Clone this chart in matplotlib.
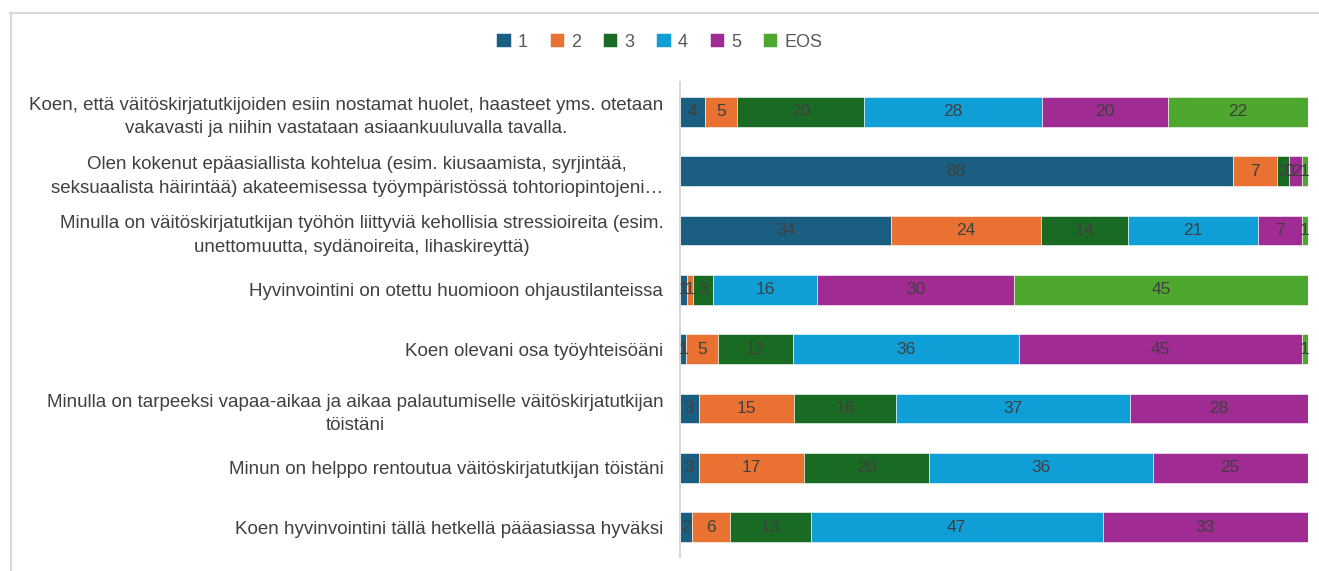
import numpy as np
import matplotlib.pyplot as plt
from matplotlib.lines import Line2D

plt.rcParams['font.family'] = ['Liberation Sans', 'DejaVu Sans']

# Survey statements (top to bottom)
questions = [
    "Koen, että väitöskirjatutkijoiden esiin nostamat huolet, haasteet yms. otetaan\nvakavasti ja niihin vastataan asiaankuuluvalla tavalla.",
    "Olen kokenut epäasiallista kohtelua (esim. kiusaamista, syrjintää,\nseksuaalista häirintää) akateemisessa työympäristössä tohtoriopintojeni…",
    "Minulla on väitöskirjatutkijan työhön liittyviä kehollisia stressioireita (esim.\nunettomuutta, sydänoireita, lihaskireyttä)",
    "Hyvinvointini on otettu huomioon ohjaustilanteissa",
    "Koen olevani osa työyhteisöäni",
    "Minulla on tarpeeksi vapaa-aikaa ja aikaa palautumiselle väitöskirjatutkijan\ntöistäni",
    "Minun on helppo rentoutua väitöskirjatutkijan töistäni",
    "Koen hyvinvointini tällä hetkellä pääasiassa hyväksi",
]

categories = ["1", "2", "3", "4", "5", "EOS"]

# values per category, one entry per question
val_1 = [4, 88, 34, 1, 1, 3, 3, 2]
val_2 = [5, 7, 24, 1, 5, 15, 17, 6]
val_3 = [20, 2, 14, 3, 12, 16, 20, 13]
val_4 = [28, 0, 21, 16, 36, 37, 36, 47]
val_5 = [20, 2, 7, 30, 45, 28, 25, 33]
val_eos = [22, 1, 1, 45, 1, 0, 0, 0]

colors = ["#1A5E82", "#E97132", "#196B24", "#0F9ED5", "#A02B93", "#4EA72E"]

series = [val_1, val_2, val_3, val_4, val_5, val_eos]
data = np.array(series, dtype=float)
totals = data.sum(axis=0)
share = data / totals * 100  # 100 % stacked

fig = plt.figure(figsize=(13.19, 5.71), dpi=100)
ax = fig.add_axes([680 / 1319, 1 - 557 / 571, 628 / 1319, 475 / 571])

y = np.arange(len(questions))
left = np.zeros(len(questions))
for i, cat in enumerate(categories):
    ax.barh(y, share[i], left=left, height=0.5, color=colors[i],
            edgecolor='white', linewidth=0.4, label=cat)
    for j in range(len(questions)):
        # Excel only shows the zero label in the second row
        if series[i][j] == 0 and j != 1:
            continue
        ax.text(left[j] + share[i][j] / 2, y[j], str(series[i][j]),
                ha='center', va='center', fontsize=12.5, color='#404040')
    left += share[i]

ax.set_xlim(0, 100)
ax.set_ylim(len(questions) - 0.5, -0.5)
ax.set_xticks([])
ax.set_yticks(y)
ax.set_yticklabels(questions, fontsize=13.5, color='#404040',
                   multialignment='center', linespacing=1.5)
ax.tick_params(axis='y', length=0, pad=12)
for s in ['top', 'right', 'bottom']:
    ax.spines[s].set_visible(False)
ax.spines['left'].set_color('#D9D9D9')
ax.spines['left'].set_linewidth(1.5)

handles, labels = ax.get_legend_handles_labels()
fig.legend(handles, labels, loc='center', bbox_to_anchor=(0.5, 1 - 42 / 571),
           ncol=6, frameon=False, fontsize=13, handlelength=0.8,
           handleheight=0.8, handletextpad=0.4, columnspacing=1.2,
           labelcolor='#595959')

# chart frame
fig.add_artist(Line2D([10 / 1319, 1318 / 1319], [1 - 13 / 571, 1 - 13 / 571],
                      color='#D9D9D9', linewidth=1.5))
fig.add_artist(Line2D([11 / 1319, 11 / 1319], [0, 1 - 13 / 571],
                      color='#D9D9D9', linewidth=1.5))

fig.savefig('out.png', dpi=100)
